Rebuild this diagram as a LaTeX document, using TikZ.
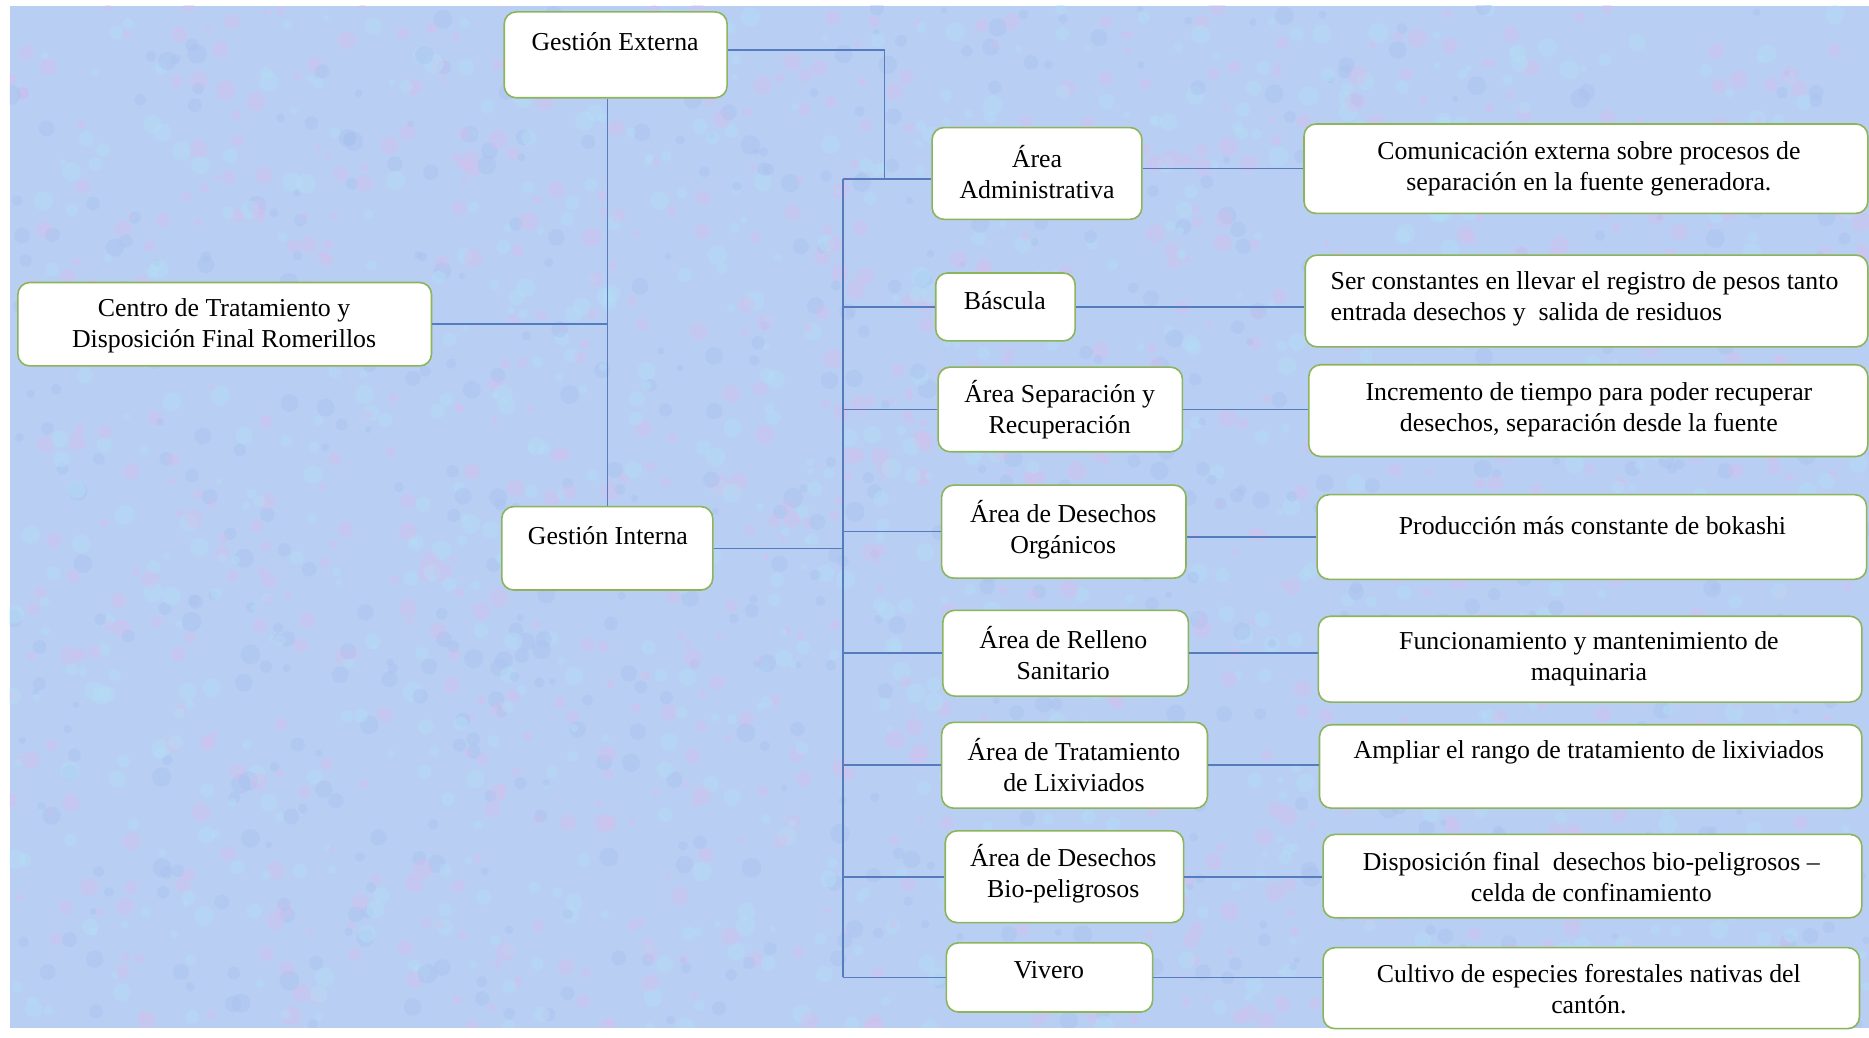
\documentclass[tikz,border=0pt]{standalone}
\usepackage{fontspec}
\setmainfont{Liberation Serif}
\usetikzlibrary{fit}
\definecolor{bgc}{RGB}{184,207,243}
\definecolor{pinkc}{RGB}{214,190,236}
\definecolor{cyanc}{RGB}{180,224,246}
\definecolor{bluec}{RGB}{166,190,238}
\definecolor{bordc}{RGB}{140,180,90}
\definecolor{linec}{RGB}{85,125,190}
\begin{document}
\begin{tikzpicture}[x=0.6pt,y=-0.6pt,
  box/.style={draw=bordc, line width=0.8pt, fill=white, rounded corners=6pt, inner sep=0pt},
  txt/.style={align=center, font=\fontsize{13}{15.6}\selectfont, inner sep=0pt, text=black},
  conn/.style={draw=linec, line width=0.8pt}]
\useasboundingbox (0,0) rectangle (1568,870);
\clip (0,0) rectangle (1568,870);
\fill[white] (0,0) rectangle (1568,870);
\begin{scope}
\clip (8,5) rectangle (1568,862);
\fill[bgc] (8,5) rectangle (1568,862);
\pgfmathsetseed{7}
\foreach \i in {1,...,2600}{
  \pgfmathsetmacro\xx{8+rnd*1560}
  \pgfmathsetmacro\yy{5+rnd*857}
  \pgfmathsetmacro\rr{1.5+rnd*3.5}
  \pgfmathsetmacro\cc{rnd}
  \ifdim\cc pt<0.35pt
    \fill[pinkc, opacity=0.4] (\xx,\yy) circle[radius=\rr pt];
  \else\ifdim\cc pt<0.7pt
    \fill[cyanc, opacity=0.4] (\xx,\yy) circle[radius=\rr pt];
  \else
    \fill[bluec, opacity=0.35] (\xx,\yy) circle[radius=\rr pt];
  \fi\fi
}
\end{scope}

\coordinate (busTop) at (707,150);
\coordinate (j1) at (742,150);

% boxes
\node[box, fit={(423,10) (610,82)}] (ge) {};
\node[box, fit={(15,237) (362,307)}] (centro) {};
\node[box, fit={(421,425) (598,495)}] (gi) {};
\node[box, fit={(782,107) (958,184)}] (admin) {};
\node[box, fit={(785,229) (902,286)}] (bas) {};
\node[box, fit={(787,308) (992,379)}] (sep) {};
\node[box, fit={(790,407) (995,485)}] (org) {};
\node[box, fit={(791,512) (997,584)}] (rel) {};
\node[box, fit={(790,606) (1013,678)}] (lix) {};
\node[box, fit={(793,697) (993,774)}] (bio) {};
\node[box, fit={(794,791) (967,849)}] (viv) {};
\node[box, fit={(1094,104) (1567,179)}] (r1) {};
\node[box, fit={(1095,214) (1567,291)}] (r2) {};
\node[box, fit={(1098,306) (1567,383)}] (r3) {};
\node[box, fit={(1105,415) (1566,486)}] (r4) {};
\node[box, fit={(1106,517) (1562,589)}] (r5) {};
\node[box, fit={(1107,608) (1562,678)}] (r6) {};
\node[box, fit={(1110,700) (1562,770)}] (r7) {};
\node[box, fit={(1110,795) (1560,863)}] (r8) {};

% connectors
\draw[conn] ([yshift=2.4pt]ge.east) -| (j1);
\draw[conn] (gi.north) -- (gi.north |- ge.south);
\draw[conn] (centro.east) -- (centro.east -| gi.north);
\draw[conn] (gi.east) -- (gi.east -| busTop);
\draw[conn] (busTop) -- (busTop |- viv.west);
\draw[conn] (busTop) -- (busTop -| admin.west);
\draw[conn] (bas.west) -- (bas.west -| busTop);
\draw[conn] (sep.west) -- (sep.west -| busTop);
\draw[conn] (org.west) -- (org.west -| busTop);
\draw[conn] (rel.west) -- (rel.west -| busTop);
\draw[conn] (lix.west) -- (lix.west -| busTop);
\draw[conn] (bio.west) -- (bio.west -| busTop);
\draw[conn] (viv.west) -- (viv.west -| busTop);
\draw[conn] (r1.west) -- (r1.west -| admin.east);
\draw[conn] (bas.east) -- (bas.east -| r2.west);
\draw[conn] (sep.east) -- (sep.east -| r3.west);
\draw[conn] (r4.west) -- (r4.west -| org.east);
\draw[conn] (rel.east) -- (rel.east -| r5.west);
\draw[conn] (lix.east) -- (lix.east -| r6.west);
\draw[conn] (bio.east) -- (bio.east -| r7.west);
\draw[conn] (viv.east) -- (viv.east -| r8.west);

% texts
\node[txt] (tge) at (516,35) {Gestión Externa};
\node[txt] (tcentro) at (188,273) {Centro de Tratamiento y\\Disposición Final Romerillos};
\node[txt] (tgi) at (510,449) {Gestión Interna};
\node[txt] (tadmin) at (870,144) {Área\\Administrativa};
\node[txt] (tbas) at (843,252) {Báscula};
\node[txt] (tsep) at (889,343.5) {Área Separación y\\Recuperación};
\node[txt] (torg) at (892,444.5) {Área de Desechos\\Orgánicos};
\node[txt] (trel) at (892,548) {Área de Relleno\\Sanitario};
\node[txt] (tlix) at (901,642) {Área de Tratamiento\\de Lixiviados};
\node[txt] (tbio) at (892,733) {Área de Desechos\\Bio-peligrosos};
\node[txt] (tviv) at (880,814) {Vivero};
\node[txt] (tr1) at (1333,142) {Comunicación externa sobre procesos de\\separación en la fuente generadora.};
\node[txt, align=left, anchor=west] (tr2) at (1116,251) {Ser constantes en llevar el registro de pesos tanto\\entrada desechos y\ \ salida de residuos};
\node[txt] (tr3) at (1333,343.5) {Incremento de tiempo para poder recuperar\\desechos, separación desde la fuente};
\node[txt] (tr4) at (1336,441) {Producción más constante de bokashi};
\node[txt] (tr5) at (1333,552.5) {Funcionamiento y mantenimiento de\\maquinaria};
\node[txt] (tr6) at (1333,631) {Ampliar el rango de tratamiento de lixiviados};
\node[txt] (tr7) at (1335,735.5) {Disposición final\ \ desechos bio-peligrosos –\\celda de confinamiento};
\node[txt] (tr8) at (1333,829.5) {Cultivo de especies forestales nativas del\\cantón.};
\end{tikzpicture}
\end{document}
